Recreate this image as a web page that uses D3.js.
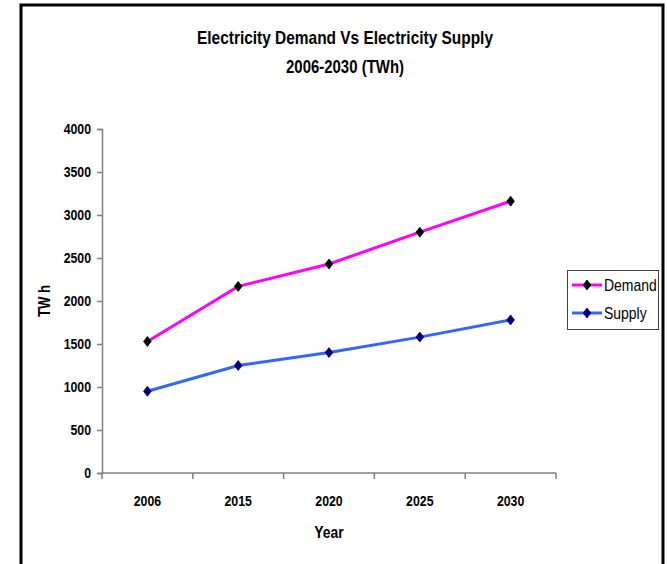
<!DOCTYPE html>
<html>
<head>
<meta charset="utf-8">
<script src="https://cdn.jsdelivr.net/npm/d3@7"></script>
<style>
  html, body { margin: 0; padding: 0; background: #fff; }
  svg { display: block; }
  text { font-family: "Liberation Sans", Arial, sans-serif; fill: #000; }
</style>
</head>
<body>
<script>
// Electricity demand and supply projections (TWh)
const years = ["2006", "2015", "2020", "2025", "2030"];
const demand = [1530, 2170, 2430, 2800, 3160];
const supply = [950, 1250, 1400, 1580, 1780];
const yTicks = [0, 500, 1000, 1500, 2000, 2500, 3000, 3500, 4000];
const seriesNames = ["Demand", "Supply"];

const W = 667, H = 564;
const NARROW = 0.82; // condensed lettering, like a narrow typeface
const svg = d3.select("body").append("svg").attr("width", W).attr("height", H);

// squeeze a text selection horizontally
function condense(sel, factor = NARROW) {
  sel.each(function () {
    const len = this.getComputedTextLength();
    d3.select(this).attr("textLength", len * factor).attr("lengthAdjust", "spacingAndGlyphs");
  });
  return sel;
}

// outer chart frame
svg.append("rect")
  .attr("x", 21).attr("y", 5).attr("width", 642).attr("height", 575)
  .attr("fill", "#fff").attr("stroke", "#000").attr("stroke-width", 3);

// title
svg.append("text").attr("x", 345).attr("y", 44)
  .attr("text-anchor", "middle").attr("font-weight", "bold").attr("font-size", 19)
  .attr("textLength", 296).attr("lengthAdjust", "spacingAndGlyphs")
  .text("Electricity Demand Vs Electricity Supply");
svg.append("text").attr("x", 345).attr("y", 73)
  .attr("text-anchor", "middle").attr("font-weight", "bold").attr("font-size", 19)
  .attr("textLength", 118).attr("lengthAdjust", "spacingAndGlyphs")
  .text("2006-2030 (TWh)");

const x = d3.scaleBand().domain(years).range([102, 556]).padding(0);
const y = d3.scaleLinear().domain([0, 4000]).range([473, 129]);

// y axis
const yAxis = svg.append("g").attr("transform", "translate(102,0)")
  .call(d3.axisLeft(y).tickValues(yTicks).tickFormat(d3.format("d")).tickSize(5).tickPadding(6));
yAxis.select(".domain").attr("stroke", "#808080").attr("stroke-width", 1.5);
yAxis.selectAll(".tick line").attr("stroke", "#808080").attr("stroke-width", 1.5);
condense(yAxis.selectAll(".tick text").attr("font-size", 15).attr("font-weight", "bold")
  .attr("font-family", null).attr("fill", "#000"));

// x axis with ticks on category boundaries
const xAxisG = svg.append("g").attr("transform", "translate(0,473)");
xAxisG.append("line").attr("x1", 102).attr("x2", 556).attr("y1", 0).attr("y2", 0)
  .attr("stroke", "#808080").attr("stroke-width", 1.5);
const bounds = years.map(d => x(d)).concat([x(years[years.length - 1]) + x.bandwidth()]);
xAxisG.selectAll("line.tk").data(bounds).join("line").attr("class", "tk")
  .attr("x1", d => d).attr("x2", d => d).attr("y1", 0).attr("y2", 6)
  .attr("stroke", "#808080").attr("stroke-width", 1.5);
condense(xAxisG.selectAll("text.lbl").data(years).join("text").attr("class", "lbl")
  .attr("x", d => x(d) + x.bandwidth() / 2).attr("y", 33)
  .attr("text-anchor", "middle").attr("font-size", 15).attr("font-weight", "bold")
  .text(d => d));

// axis titles
condense(svg.append("text").attr("x", 329).attr("y", 538).attr("text-anchor", "middle")
  .attr("font-size", 17).attr("font-weight", "bold").text("Year"));
condense(svg.append("text").attr("transform", "translate(50,301) rotate(-90)").attr("text-anchor", "middle")
  .attr("font-size", 16).attr("font-weight", "bold").text("TW h"));

// series
const series = [
  { name: seriesNames[0], values: demand, line: "#ff00ff", marker: "#000000" },
  { name: seriesNames[1], values: supply, line: "#3366ff", marker: "#000080" }
];
const cx = d => x(d) + x.bandwidth() / 2;
const line = d3.line().x((v, i) => cx(years[i])).y(v => y(v));
const diamond = "M0,-5L3.8,0L0,5L-3.8,0Z";

series.forEach(s => {
  svg.append("path").attr("d", line(s.values)).attr("fill", "none")
    .attr("stroke", s.line).attr("stroke-width", 3);
  svg.selectAll(null).data(s.values).join("path")
    .attr("d", diamond)
    .attr("transform", (v, i) => `translate(${cx(years[i])},${y(v)})`)
    .attr("fill", s.marker).attr("stroke", s.marker).attr("stroke-width", 0.8);
});

// legend
const lg = svg.append("g");
lg.append("rect").attr("x", 567.5).attr("y", 270.5).attr("width", 91).attr("height", 59)
  .attr("fill", "#fff").attr("stroke", "#404040").attr("stroke-width", 1);
series.forEach((s, i) => {
  const ly = 285 + i * 28;
  lg.append("line").attr("x1", 572).attr("x2", 602).attr("y1", ly).attr("y2", ly)
    .attr("stroke", s.line).attr("stroke-width", 3);
  lg.append("path").attr("d", diamond).attr("transform", `translate(587,${ly})`)
    .attr("fill", s.marker).attr("stroke", s.marker).attr("stroke-width", 0.8);
  condense(lg.append("text").attr("x", 604).attr("y", ly + 6).attr("font-size", 17).text(s.name));
});
</script>
</body>
</html>
